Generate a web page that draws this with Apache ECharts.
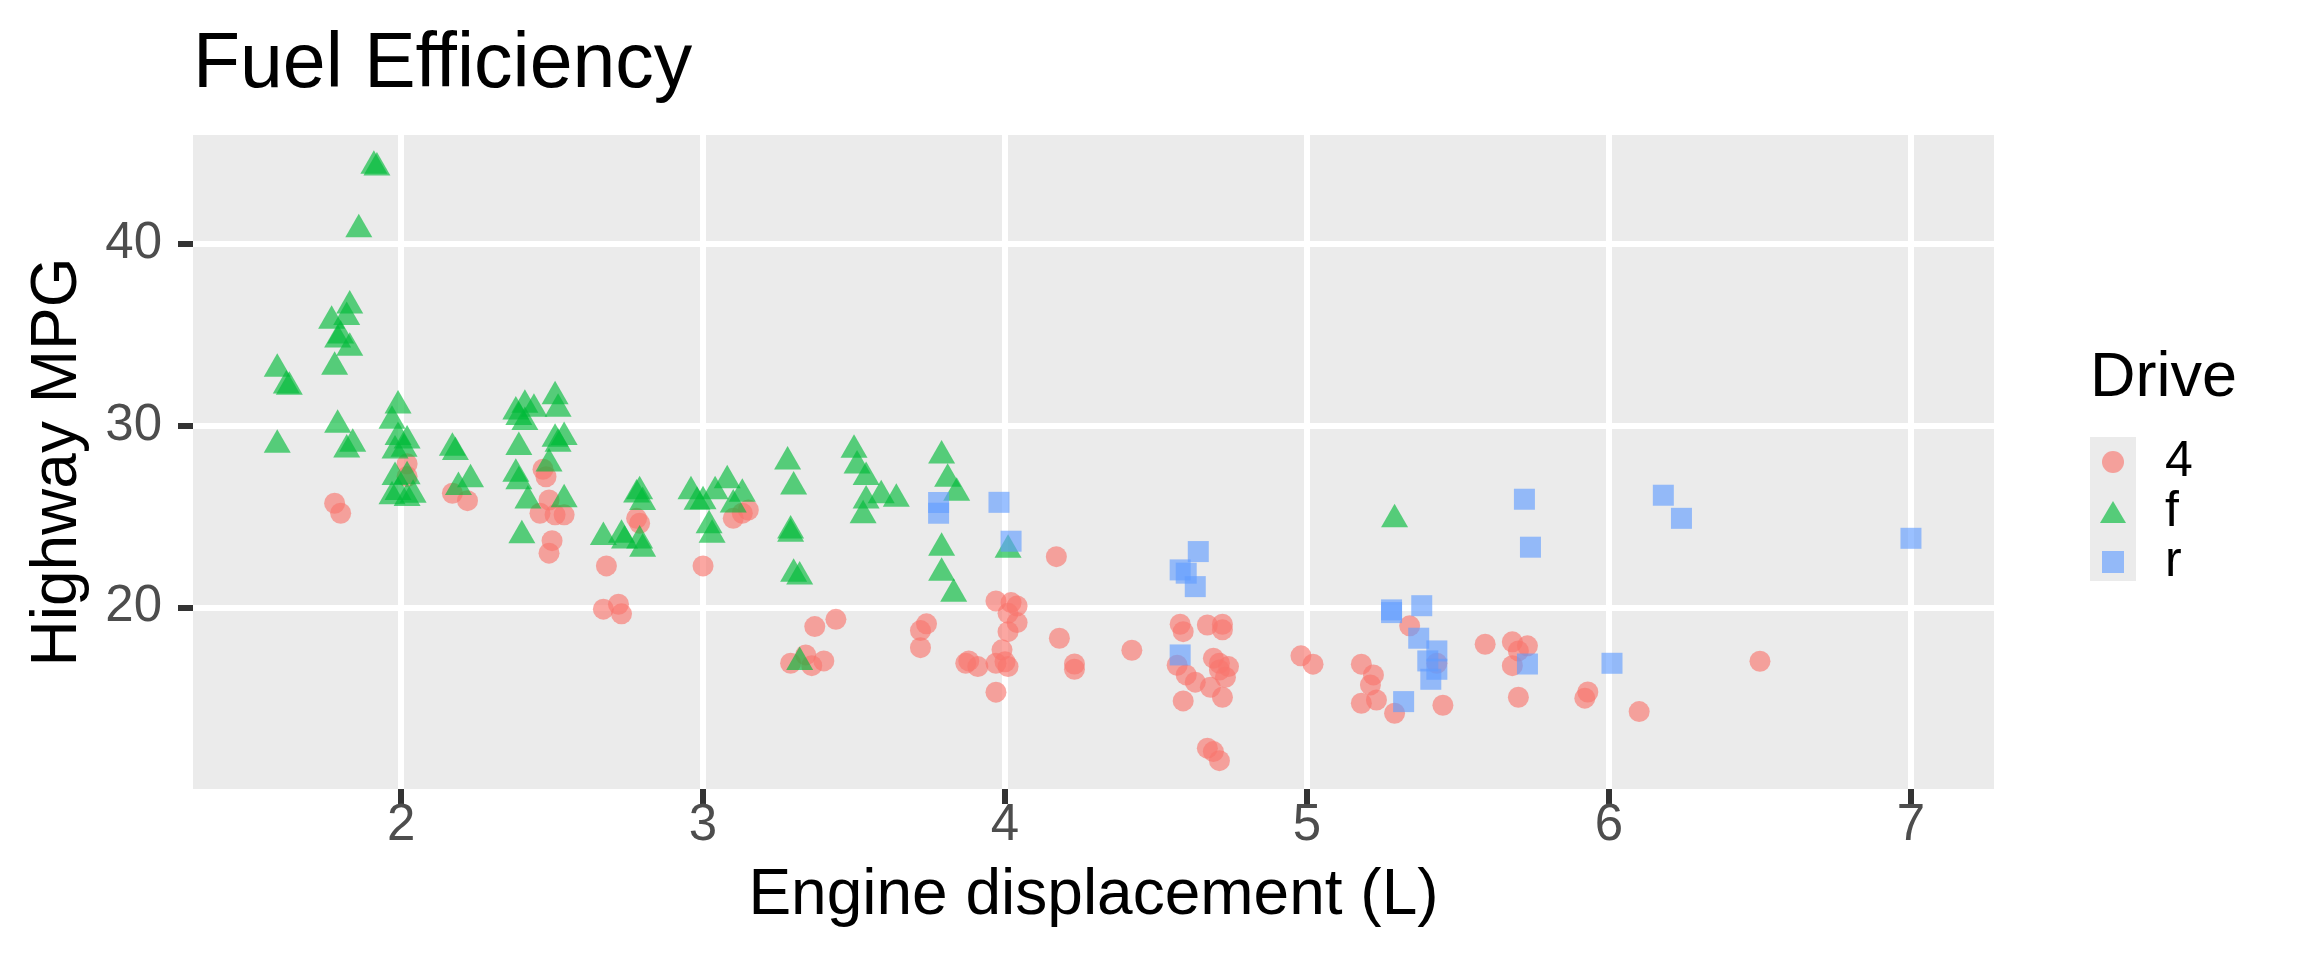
<!DOCTYPE html>
<html>
<head>
<meta charset="utf-8">
<title>Fuel Efficiency</title>
<script src="https://cdn.jsdelivr.net/npm/echarts@6/dist/echarts.min.js"></script>
<style>
  html, body { margin: 0; padding: 0; background: #ffffff; }
  #chart { width: 2304px; height: 960px; }
</style>
</head>
<body>
<div id="chart"></div>
<script>
// drive = 4
var fourX = [2.02, 2.02, 2.17, 2.22, 1.78, 1.80, 2.48, 2.47, 2.49, 2.46, 2.51, 2.54, 2.50, 2.49, 2.68, 2.67, 2.72, 2.73,
	2.78, 2.79, 3.10, 3.13, 3.15, 3.00, 3.29, 3.34, 3.36, 3.40, 3.37, 3.44,
	4.17, 3.97, 4.02, 4.04, 4.01, 4.04, 4.01, 3.99, 3.97, 4.01, 4.00, 3.97, 3.74, 3.72, 3.72, 3.87, 3.88, 3.91, 4.18,
	4.23, 4.23, 4.42, 4.58, 4.59, 4.67, 4.72, 4.72, 4.57, 4.60, 4.63, 4.68, 4.59, 4.72, 4.69, 4.71, 4.74, 4.71, 4.73,
	4.67, 4.69, 4.71, 4.98, 5.02, 5.18, 5.22, 5.21, 5.18, 5.23, 5.29, 5.34, 5.43, 5.45, 5.59,
	5.68, 5.73, 5.70, 5.68, 5.70, 5.93, 5.92, 6.10, 6.50];
var fourY = [27.9, 27.2, 26.28, 25.87, 25.73, 25.18, 27.19, 27.6, 25.91, 25.18, 25.09, 25.09, 23.67, 22.98, 22.28, 19.9, 20.17, 19.64,
	24.9, 24.63, 24.9, 25.18, 25.36, 22.28, 16.92, 17.38, 16.79, 17.05, 18.94, 19.34,
	22.79, 20.35, 20.26, 20.08, 19.67, 19.16, 18.66, 17.66, 16.92, 16.74, 17.0, 15.33, 19.09, 18.72, 17.78, 16.92, 17.05, 16.74, 18.3,
	16.88, 16.59, 17.64, 19.07, 18.66, 19.03, 19.07, 18.76, 16.81, 16.28, 15.88, 15.6, 14.85, 15.05, 17.2, 16.92, 16.74, 16.55, 16.15,
	12.25, 12.06, 11.56, 17.33, 16.87, 16.87, 16.28, 15.73, 14.72, 14.9, 14.17, 18.98, 16.92, 14.61, 17.97,
	18.1, 17.88, 17.6, 16.79, 15.05, 15.34, 15.0, 14.26, 17.03];

// drive = f
var frontX = [1.91, 1.92, 1.86, 1.83, 1.82, 1.77, 1.80, 1.79, 1.83, 1.78, 1.59, 1.62, 1.63, 1.99, 1.97, 1.79, 1.59, 1.84, 1.82,
	1.99, 2.02, 1.98, 2.01, 1.98, 2.02, 1.99, 2.04, 1.97, 2.02,
	2.17, 2.18, 2.23, 2.19,
	2.38, 2.41, 2.44, 2.51, 2.52, 2.39, 2.41, 2.39, 2.51, 2.54, 2.52, 2.38, 2.39, 2.49, 2.42, 2.54, 2.40,
	2.67, 2.73, 2.74, 2.79, 2.78, 2.80, 2.79, 2.80,
	2.96, 3.00, 2.98, 3.04, 3.08, 3.13, 3.10, 3.02, 3.03,
	3.28, 3.30, 3.29, 3.29, 3.30, 3.32, 3.32,
	3.50, 3.51, 3.54, 3.54, 3.59, 3.64, 3.53,
	3.79, 3.81, 3.84, 3.79, 3.79, 3.83, 4.01, 5.29];
var frontY = [44.3, 44.2, 40.8, 36.6, 35.97, 35.76, 34.95, 34.73, 34.28, 33.23, 33.12, 32.2, 32.13, 31.1, 30.26, 30.04, 28.94, 28.99, 28.68,
	29.36, 29.17, 28.62, 28.72, 27.16, 27.2, 26.33, 26.19, 26.1, 26.0,
	28.77, 28.54, 27.03, 26.61,
	30.77, 31.14, 30.92, 31.6, 30.92, 30.46, 30.19, 28.81, 29.27, 29.36, 28.99, 27.34, 26.92, 27.9, 25.87, 25.93, 23.95,
	23.86, 23.98, 23.67, 26.37, 26.2, 25.78, 23.67, 23.21,
	26.37, 25.82, 25.8, 26.37, 26.98, 26.24, 25.64, 24.5, 23.98,
	28.02, 26.64, 24.22, 24.04, 21.84, 21.69, 16.98,
	28.66, 27.8, 27.16, 25.87, 26.15, 25.97, 25.05,
	28.35, 27.07, 26.3, 23.27, 21.89, 20.74, 23.16, 24.83];

// drive = r
var rearX = [3.78, 3.78, 3.98, 4.02, 4.64, 4.58, 4.60, 4.63, 4.58, 5.28, 5.28, 5.38, 5.37, 5.43, 5.40, 5.43, 5.41, 5.32,
	5.72, 5.74, 6.18, 6.24, 7.00, 5.73, 6.01];
var rearY = [25.77, 25.18, 25.78, 23.64, 23.07, 22.06, 21.88, 21.14, 17.38, 19.86, 19.71, 20.09, 18.3, 17.6, 17.05, 16.59, 16.04, 14.81,
	25.95, 23.31, 26.17, 24.9, 23.8, 16.88, 16.92];

var xTicks = [2, 3, 4, 5, 6, 7];
var yTicks = [20, 30, 40];

var font = "'Liberation Sans', Arial, sans-serif";

function pairs(xs, ys) {
	var out = [];
	for (var i = 0; i < xs.length; i++) {
		out.push([xs[i], ys[i]]);
	}
	return out;
}

var myChart = echarts.init(document.getElementById('chart'), null, { renderer: 'canvas' });
myChart.setOption({
	backgroundColor: '#ffffff',
	animation: false,
	title: [
		{
			text: 'Fuel Efficiency', left: 193, top: 27, padding: 0,
			textStyle: { fontSize: 77, lineHeight: 77, fontWeight: 'normal', color: '#000000', fontFamily: font }
		},
		{
			text: 'Drive', left: 2090, top: 347, padding: 0,
			textStyle: { fontSize: 63, lineHeight: 63, fontWeight: 'normal', color: '#000000', fontFamily: font }
		}
	],
	graphic: [
		{ type: 'rect', left: 2090, top: 437, z: 0, shape: { width: 46, height: 144 }, style: { fill: '#EBEBEB' } }
	],
	legend: {
		orient: 'vertical',
		left: 2100,
		top: 437,
		padding: 0,
		itemGap: 0,
		itemWidth: 26,
		itemHeight: 22,
		z: 5,
		selectedMode: false,
		textStyle: { fontSize: 50, lineHeight: 48, color: '#000000', fontFamily: font, padding: [0, 0, 0, 34] },
		data: [
			{ name: '4', icon: 'circle' },
			{ name: 'f', icon: 'triangle' },
			{ name: 'r', icon: 'path://M0 0H10V10H0Z' }
		]
	},
	grid: {
		left: 193, right: 310, top: 135, bottom: 171,
		show: true, backgroundColor: '#EBEBEB', borderWidth: 0
	},
	xAxis: {
		type: 'value',
		min: 1.311,
		max: 7.275,
		name: 'Engine displacement (L)',
		nameLocation: 'middle',
		nameGap: 75,
		nameTextStyle: { fontSize: 64, lineHeight: 64, color: '#000000', fontFamily: font },
		axisLine: { show: false },
		axisTick: { show: true, length: 15, customValues: xTicks, lineStyle: { color: '#333333', width: 6 } },
		axisLabel: { customValues: xTicks, margin: 11, fontSize: 51, lineHeight: 51, color: '#4D4D4D', fontFamily: font },
		splitLine: { show: true, lineStyle: { color: '#ffffff', width: 6 } }
	},
	yAxis: {
		type: 'value',
		min: 10,
		max: 46,
		name: 'Highway MPG',
		nameLocation: 'middle',
		nameGap: 103,
		nameTextStyle: { fontSize: 64, lineHeight: 64, color: '#000000', fontFamily: font },
		axisLine: { show: false },
		axisTick: { show: true, length: 15, customValues: yTicks, lineStyle: { color: '#333333', width: 6 } },
		axisLabel: { customValues: yTicks, margin: 31, fontSize: 51, lineHeight: 51, color: '#4D4D4D', fontFamily: font },
		splitLine: { show: true, lineStyle: { color: '#ffffff', width: 6 } }
	},
	series: [
		{
			name: '4', type: 'scatter', symbol: 'circle', symbolSize: 21,
			itemStyle: { color: 'rgba(248,118,109,0.8)' },
			data: pairs(fourX, fourY)
		},
		{
			// ggplot puts the triangle's centroid on the point, so lift it a little
			name: 'f', type: 'scatter', symbol: 'triangle', symbolSize: [27, 23.5], symbolOffset: [0, -4],
			itemStyle: { color: 'rgba(0,186,56,0.8)' },
			data: pairs(frontX, frontY)
		},
		{
			name: 'r', type: 'scatter', symbol: 'rect', symbolSize: 21,
			itemStyle: { color: 'rgba(97,156,255,0.8)' },
			data: pairs(rearX, rearY)
		}
	]
});
</script>
</body>
</html>
